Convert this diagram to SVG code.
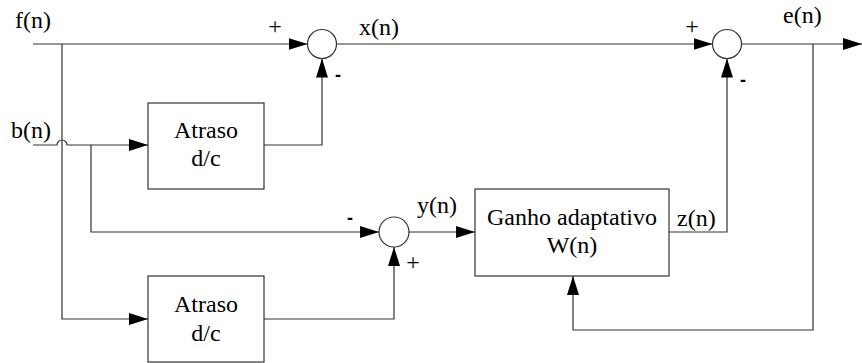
<svg xmlns="http://www.w3.org/2000/svg" width="862" height="363" viewBox="0 0 862 363">
<defs>
<marker id="arr" markerUnits="userSpaceOnUse" markerWidth="19" markerHeight="12" refX="19" refY="6" orient="auto">
<path d="M0,0 L19,6 L0,12 z" fill="#000"/>
</marker>
<style>
.w{fill:none;stroke:#333;stroke-width:1.2}
.a{marker-end:url(#arr)}
.b{fill:#fff;stroke:#333;stroke-width:1.2}
text{font-family:'Liberation Serif','Tinos','Times New Roman','DejaVu Serif',serif}
.t{font-size:24px;fill:#000}
.p{font-size:24px;fill:#000;text-anchor:middle}
.m{font-family:'Liberation Sans',Arial,sans-serif;font-weight:bold;font-size:18px;fill:#000;text-anchor:middle}
.c{text-anchor:middle}
</style>
</defs>
<rect width="862" height="363" fill="#fff"/>
<g id="connectors">
<path class="w a" d="M33,44 H307.5"/>
<path class="w a" d="M62,44 V319 H148"/>
<path class="w a" d="M33,145 H57 A5,5 0 0 1 67,145 H148"/>
<path class="w a" d="M91,145 V232 H379"/>
<path class="w a" d="M264,145 H322 V58.5"/>
<path class="w a" d="M264,319 H394 V247"/>
<path class="w a" d="M336.5,44 H712.5"/>
<path class="w a" d="M741.5,44 H862"/>
<path class="w a" d="M813,44 V330 H573 V276"/>
<path class="w a" d="M409,232 H475"/>
<path class="w a" d="M669,232 H727 V58.5"/>
</g>
<g id="sum1"><circle class="b" cx="322" cy="44" r="14.5"/><text class="p" x="275" y="34">+</text><text class="m" x="338" y="81">-</text></g>
<g id="sum2"><circle class="b" cx="394" cy="232" r="15"/><text class="m" x="350" y="224">-</text><text class="p" x="413" y="270">+</text></g>
<g id="sum3"><circle class="b" cx="727" cy="44" r="14.5"/><text class="p" x="692" y="34">+</text><text class="m" x="743" y="86">-</text></g>
<g id="atraso1"><rect class="b" x="148" y="103" width="116" height="86"/><text class="t c" x="206" y="138">Atraso</text><text class="t c" x="206" y="166">d/c</text></g>
<g id="atraso2"><rect class="b" x="148" y="276" width="116" height="86"/><text class="t c" x="206" y="312">Atraso</text><text class="t c" x="206" y="341">d/c</text></g>
<g id="ganho"><rect class="b" x="475" y="189" width="194" height="87"/><text class="t c" x="572" y="225">Ganho adaptativo</text><text class="t c" x="572" y="253">W(n)</text></g>
<g id="labels">
<text class="t" x="15" y="28">f(n)</text>
<text class="t" x="11" y="138">b(n)</text>
<text class="t" x="359" y="35">x(n)</text>
<text class="t" x="783" y="23">e(n)</text>
<text class="t" x="417" y="213">y(n)</text>
<text class="t" x="677" y="226">z(n)</text>
</g>
</svg>
